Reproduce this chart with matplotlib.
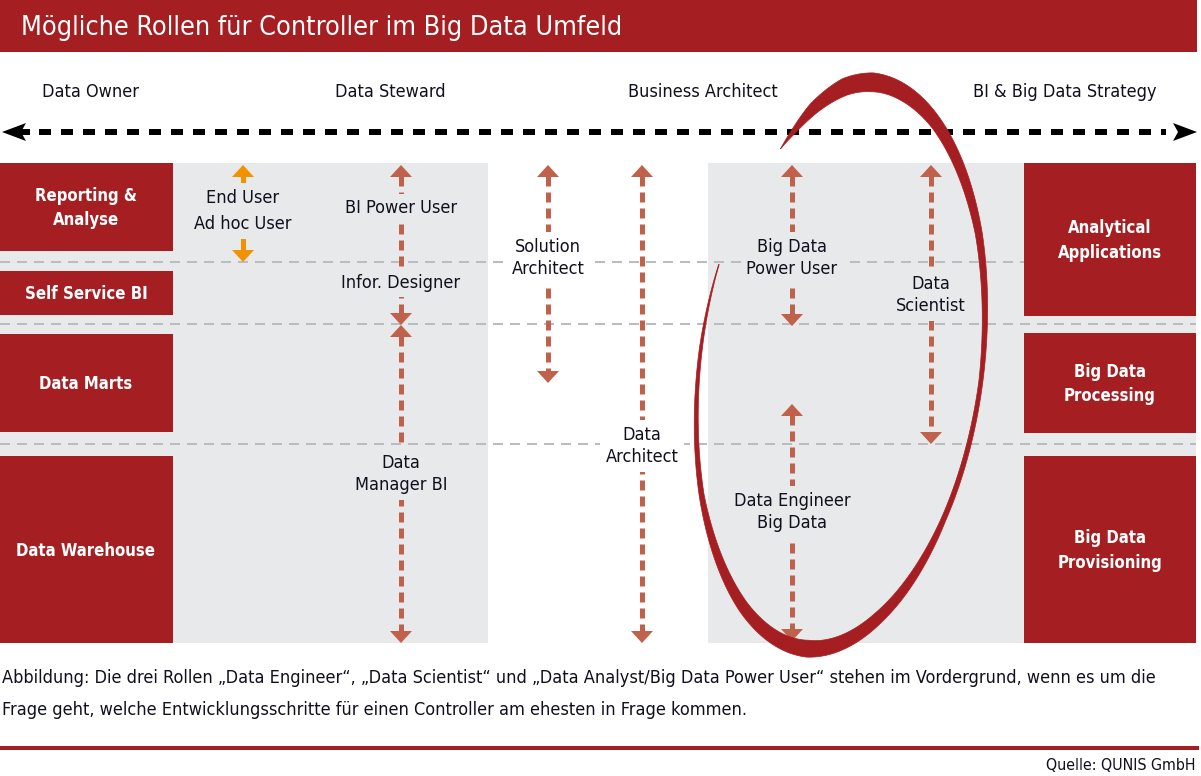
import numpy as np
import matplotlib
matplotlib.use('Agg')
import matplotlib.pyplot as plt
from matplotlib.patches import Rectangle, Polygon
from matplotlib.lines import Line2D

plt.rcParams['lines.scale_dashes'] = False
FONT = ['DejaVu Sans']
plt.rcParams['font.family'] = FONT
plt.rcParams['font.stretch'] = 'condensed'

# ---------------- content ----------------
title = "Mögliche Rollen für Controller im Big Data Umfeld"
strategy_levels = ["Data Owner", "Data Steward", "Business Architect", "BI & Big Data Strategy"]
left_layers = ["Reporting &\nAnalyse", "Self Service BI", "Data Marts", "Data Warehouse"]
right_layers = ["Analytical\nApplications", "Big Data\nProcessing", "Big Data\nProvisioning"]
roles = ["End User\nAd hoc User", "BI Power User", "Infor. Designer", "Data\nManager BI",
         "Solution\nArchitect", "Data\nArchitect", "Big Data\nPower User",
         "Data Engineer\nBig Data", "Data\nScientist"]
caption = ("Abbildung: Die drei Rollen „Data Engineer“, „Data Scientist“ und „Data Analyst/Big Data Power User“ "
           "stehen im Vordergrund, wenn es um die\nFrage geht, welche Entwicklungsschritte für einen Controller "
           "am ehesten in Frage kommen.")
source = "Quelle: QUNIS GmbH"

# ---------------- layout / style ----------------
W, H = 1201, 776
RED = '#A51F22'
GRAY = '#E8E9EB'
DASHC = '#B9BCC0'
ARROW = '#C0614B'
ORANGE = '#F39200'
TXT = '#10101E'
PT = 0.72  # points per pixel at 100 dpi

fig = plt.figure(figsize=(W / 100, H / 100), dpi=100)
ax = fig.add_axes([0, 0, 1, 1])
ax.set_xlim(0, W)
ax.set_ylim(H, 0)
ax.axis('off')

# title bar
ax.add_patch(Rectangle((0, 0), 1197, 52, color=RED, lw=0, zorder=1))
ax.text(21, 28, title, color='white', fontsize=19.4, ha='left', va='center', zorder=2)

# strategy labels
strat_x = [90, 390, 703, 1065]
for lab, x in zip(strategy_levels, strat_x):
    ax.text(x, 92, lab, color=TXT, fontsize=13, ha='center', va='center', zorder=2)

# black dashed double arrow
ax.add_line(Line2D([39, 1166], [132, 132], color='black', lw=6 * PT,
                   dashes=(12 * PT, 10 * PT), dash_capstyle='butt', zorder=2))
ax.add_patch(Polygon([[2, 132], [26, 123], [21, 132], [26, 141]], closed=True, color='black', lw=0, zorder=2))
ax.add_patch(Polygon([[20, 129], [30, 129], [30, 135], [20, 135]], closed=True, color='black', lw=0, zorder=2))
ax.add_patch(Polygon([[1197, 132], [1173, 123], [1178, 132], [1173, 141]], closed=True, color='black', lw=0, zorder=2))

# gray panels
ax.add_patch(Rectangle((0, 163), 488, 480, color=GRAY, lw=0, zorder=1))
ax.add_patch(Rectangle((708, 163), 488, 480, color=GRAY, lw=0, zorder=1))

# horizontal dashed separators
for y in [262, 324, 444]:
    ax.add_line(Line2D([0, 1196], [y, y], color=DASHC, lw=2 * PT,
                       dashes=(10 * PT, 7 * PT), dash_capstyle='butt', zorder=1.5))

# red layer boxes
left_spans = [(163, 251), (271, 315), (334, 432), (456, 643)]
for lab, (y0, y1) in zip(left_layers, left_spans):
    ax.add_patch(Rectangle((0, y0), 173, y1 - y0, color=RED, lw=0, zorder=2))
    ax.text(86, (y0 + y1) / 2 + 1, lab, color='white', fontsize=12, fontweight='bold',
            ha='center', va='center', linespacing=1.45, zorder=3)
right_spans = [(163, 316), (333, 433), (456, 643)]
for lab, (y0, y1) in zip(right_layers, right_spans):
    ax.add_patch(Rectangle((1024, y0), 172, y1 - y0, color=RED, lw=0, zorder=2))
    ax.text(1110, (y0 + y1) / 2 + 1, lab, color='white', fontsize=12, fontweight='bold',
            ha='center', va='center', linespacing=1.45, zorder=3)


def varrow(x, y0, y1, color, lw=5, hw=22, hl=12, solid=False):
    kw = dict(color=color, lw=lw * PT, zorder=3, solid_capstyle='butt')
    if not solid:
        kw.update(dashes=(10 * PT, 6 * PT), dash_capstyle='butt')
    ax.add_line(Line2D([x, x], [y0 + hl - 1, y1 - hl + 1], **kw))
    ax.add_patch(Polygon([[x, y0], [x - hw / 2, y0 + hl], [x + hw / 2, y0 + hl]],
                         closed=True, color=color, lw=0, zorder=3))
    ax.add_patch(Polygon([[x, y1], [x - hw / 2, y1 - hl], [x + hw / 2, y1 - hl]],
                         closed=True, color=color, lw=0, zorder=3))


# role arrows
varrow(243, 165, 262, ORANGE, lw=5, solid=True)
varrow(401, 165, 325, ARROW)
varrow(401, 325, 643, ARROW)
varrow(548, 165, 383, ARROW)
varrow(642, 165, 643, ARROW)
varrow(792, 165, 326, ARROW)
varrow(792, 404, 641, ARROW)
varrow(931, 165, 444, ARROW)

# role labels
role_pos = [(243, 211, GRAY, 1.62), (401, 208, GRAY, 1.1), (401, 283, GRAY, 1.1), (401, 474, GRAY, 1.3),
            (548, 258, 'white', 1.3), (642, 446, 'white', 1.3), (792, 258, GRAY, 1.3),
            (792, 512, GRAY, 1.3), (931, 295, GRAY, 1.3)]
for lab, (x, y, bg, ls) in zip(roles, role_pos):
    ax.text(x, y, lab, color=TXT, fontsize=13, ha='center', va='center', linespacing=ls,
            zorder=4, bbox=dict(boxstyle='square,pad=0.3', fc=bg, ec='none'))

# hand-drawn style ellipse around the big data roles
C = np.array([840.0, 365.0])
a, b = 294.0, 146.0
tilt = np.deg2rad(6.5)
u = np.array([np.sin(tilt), -np.cos(tilt)])
v = np.array([np.cos(tilt), np.sin(tilt)])
deg = np.linspace(-39, 288, 700)
th_k = [-39, -33, -25, -12, 0, 15, 30, 60, 90, 120, 150, 180, 210, 240, 270, 288]
t_k = [0, 5, 11, 17, 19, 16, 12, 7, 4, 5, 11, 17, 11, 5, 3, 0.5]
r_k = [0.91, 0.93, 0.96, 0.99, 1, 1, 1, 1, 0.985, 0.97, 0.98, 1, 1, 0.99, 0.97, 0.95]
tk = np.interp(deg, th_k, t_k)
rk = np.interp(deg, th_k, r_k)
th = np.deg2rad(deg)
P = C + rk[:, None] * (a * np.cos(th)[:, None] * u + b * np.sin(th)[:, None] * v)
N = b * np.cos(th)[:, None] * u + a * np.sin(th)[:, None] * v
N /= np.linalg.norm(N, axis=1)[:, None]
inner = P - tk[:, None] * N
ax.add_patch(Polygon(np.vstack([P, inner[::-1]]), closed=True, color=RED, lw=0.5, zorder=5))

# caption
ax.text(2, 694, caption, color=TXT, fontsize=13, ha='left', va='center', linespacing=1.95, zorder=2)
ax.add_line(Line2D([0, 1197], [748, 748], color=RED, lw=4 * PT, zorder=2))
ax.text(1196, 765, source, color=TXT, fontsize=11.4, ha='right', va='center', zorder=2)

fig.savefig('out.png', dpi=100)
